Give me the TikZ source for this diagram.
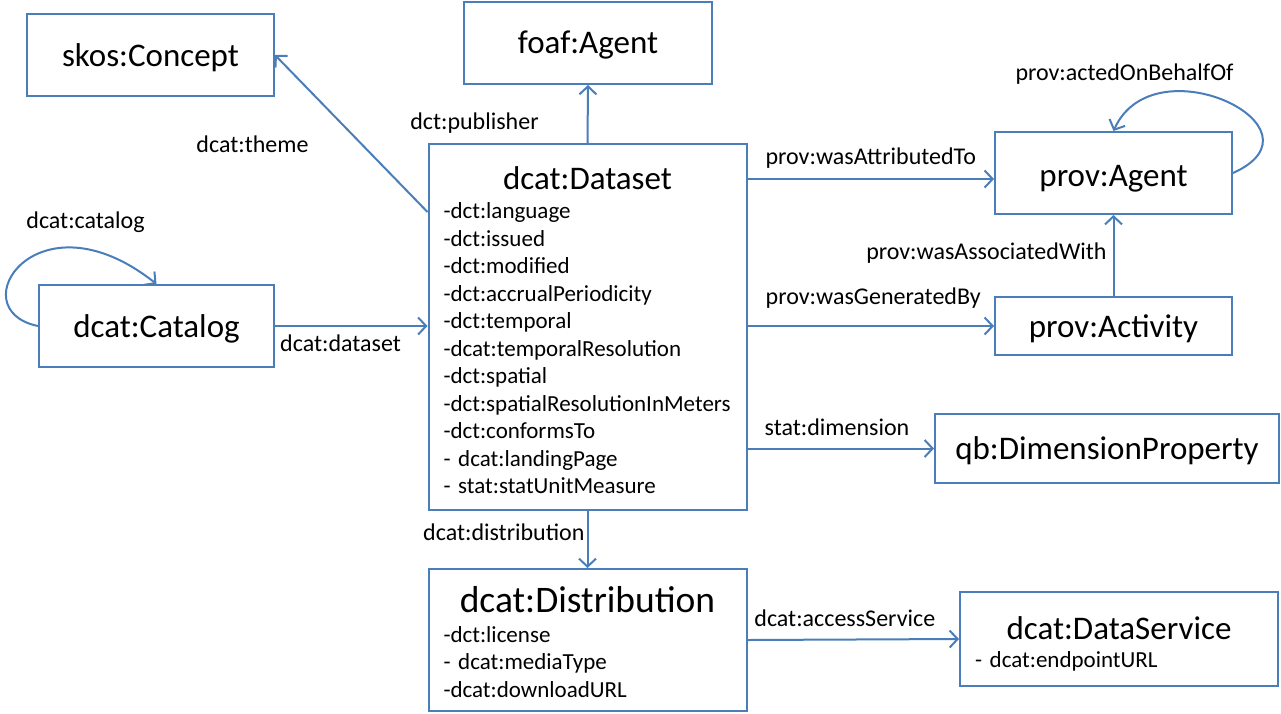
\documentclass[tikz,border=0pt]{standalone}
\usepackage{fontspec}
\setmainfont{Carlito}
\usetikzlibrary{arrows.meta, positioning}
\definecolor{linkblue}{HTML}{4A7EBB}
\hyphenpenalty=10000
\exhyphenpenalty=10000
\newcommand{\listfont}{\fontsize{23}{27.5}\selectfont}
\newcommand{\titlefont}{\fontsize{33}{40}\selectfont}
\newcommand{\lblfont}{\fontsize{24}{29}\selectfont}
\tikzset{
	->, % every connector is directed
	>={Straight Barb[length=8pt,width=17pt]}, % open arrow heads
	link/.style={draw=linkblue, line width=2pt}, % the connectors
	every edge/.style={link}, % edges look like the other connectors
	box/.style={draw=linkblue, line width=2pt, fill=white, inner sep=0pt, font=\titlefont, text height=#1, text depth=0pt}, % plain class box
	box/.default=22pt,
	attrbox/.style={draw=linkblue, line width=2pt, fill=white, inner xsep=15pt, inner ysep=0pt, text width=288pt, align=left, font=\listfont}, % class box with a list
	lbl/.style={font=\lblfont, inner sep=2pt, text height=18pt, text depth=6pt}, % property names
}

\begin{document}
\begin{tikzpicture}[x=1pt, y=-1pt]
	\fill[white] (0,0) rectangle (1281,713);
	\useasboundingbox (0,0) rectangle (1281,713);
	
	% classes
	\node[box, minimum width=247pt, minimum height=82pt] (concept) at (150.5,55) {skos:Concept};
	\node[box=20pt, minimum width=248pt, minimum height=82pt] (foafagent) at (588,43) {foaf:Agent};
	\node[box, minimum width=235pt, minimum height=82pt] (catalog) at (156.5,326) {dcat:Catalog};
	\node[box=26pt, minimum width=237pt, minimum height=82pt] (provagent) at (1113.5,173) {prov:Agent};
	\node[box=23pt, minimum width=237pt, minimum height=58pt] (activity) at (1113.5,326) {prov:Activity};
	\node[box, minimum width=344pt, minimum height=69pt] (dimprop) at (1107,448.5) {qb:DimensionProperty};
	
	\node[attrbox, minimum height=366pt] (dataset) at (587.5,327) {\vskip2pt\centerline{\titlefont dcat:Dataset}\vskip1.5pt
		-dct:language\\
		-dct:issued\\
		-dct:modified\\
		-dct:accrualPeriodicity\\
		-dct:temporal\\
		-dcat:temporalResolution\\
		-dct:spatial\\
		-dct:spatialResolutionInMeters\\
		-dct:conformsTo\\
		- dcat:landingPage\\
		- stat:statUnitMeasure};
	\node[attrbox, minimum height=142pt] (distrib) at (587.5,640) {\vskip3pt\centerline{\fontsize{37.5}{45}\selectfont dcat:Distribution}\vskip2pt
		-dct:license\\
		- dcat:mediaType\\
		-dcat:downloadURL};
	\node[attrbox, minimum height=94pt] (dataservice) at (1119,639) {\vskip5pt\centerline{\titlefont dcat:DataService}
		- dcat:endpointURL};
	
	\coordinate (attr) at ([yshift=-6pt]provagent.west);
	
	% properties
	\path (dataset.north) edge node[lbl, pos=.34, left=46pt] {dct:publisher} (foafagent.south)
	(dataset.north west) ++(0,69) edge node[lbl, pos=.42, left=52pt] {dcat:theme} (concept.east)
	(catalog.east) edge node[lbl, pos=.43, below=4pt] {dcat:dataset} (catalog.east -| dataset.west)
	(attr -| dataset.east) edge node[lbl, pos=.5, above=6pt] {prov:wasAttributedTo} (attr)
	(activity.west -| dataset.east) edge node[lbl, pos=.51, above=13pt] {prov:wasGeneratedBy} (activity.west)
	(activity.north) edge node[lbl, pos=.52, left=4pt] {prov:wasAssociatedWith} (provagent.south)
	(dimprop.west -| dataset.east) edge node[lbl, pos=.48, above=4pt] {stat:dimension} (dimprop.west)
	(dataset.south) edge node[lbl, pos=.42, left=0pt] {dcat:distribution} (distrib.north)
	(distrib.east) edge node[lbl, pos=.46, above=4pt] {dcat:accessService} (dataservice.west);
	
	% self loops
	\draw[link] (catalog.west) .. controls +(-79,-16) and +(-120,-95) .. (catalog.north) node[lbl, pos=.8, above=13pt, xshift=-5pt] {dcat:catalog};
	\draw[link] (provagent.east) .. controls +(100,-45) and +(40,-90) .. (provagent.north) node[lbl, pos=1, above=42pt, xshift=11pt] {prov:actedOnBehalfOf};
	
\end{tikzpicture}
\end{document}
